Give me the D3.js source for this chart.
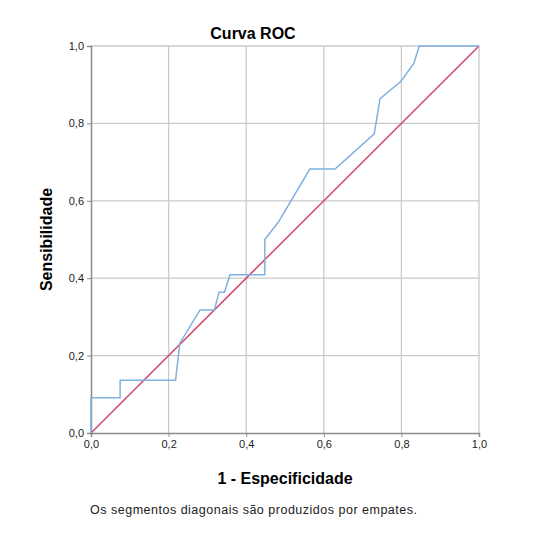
<!DOCTYPE html>
<html><head><meta charset="utf-8">
<script src="https://cdn.jsdelivr.net/npm/d3@7"></script>
<style>body{margin:0;background:#fff;} svg{display:block;font-family:"Liberation Sans",Arial,sans-serif;}</style>
</head><body>
<script>
const fpr = [0,0,0.075,0.075,0.218,0.229,0.281,0.318,0.330,0.344,0.358,0.448,0.448,0.483,0.564,0.629,0.730,0.745,0.799,0.832,0.846,1];
const tpr = [0,0.091,0.091,0.136,0.136,0.232,0.318,0.318,0.364,0.364,0.409,0.409,0.5,0.545,0.682,0.682,0.773,0.864,0.909,0.955,1,1];
const refX = [0,1];
const refY = [0,1];
const ticks = [0,0.2,0.4,0.6,0.8,1.0];

const W=534,H=537;
const L=91,R=479,T=46,B=433;
const svg=d3.select("body").append("svg").attr("width",W).attr("height",H);
const x=d3.scaleLinear().domain([0,1]).range([L,R]);
const y=d3.scaleLinear().domain([0,1]).range([B,T]);
const fmt=d=>d3.format(".1f")(d).replace(".",",");

// grid
svg.append("g").selectAll("line").data(ticks.filter(d=>d>0)).join("line")
  .attr("x1",d=>x(d)).attr("x2",d=>x(d)).attr("y1",T).attr("y2",B)
  .attr("stroke","#cacaca").attr("stroke-width",1.3);
svg.append("g").selectAll("line").data(ticks.filter(d=>d>0)).join("line")
  .attr("y1",d=>y(d)).attr("y2",d=>y(d)).attr("x1",L).attr("x2",R)
  .attr("stroke","#cacaca").attr("stroke-width",1.3);

// axes
const xa=svg.append("g").attr("transform",`translate(0,${B})`)
  .call(d3.axisBottom(x).tickValues(ticks).tickFormat(fmt).tickSize(4).tickPadding(3));
const ya=svg.append("g").attr("transform",`translate(${L},0)`)
  .call(d3.axisLeft(y).tickValues(ticks).tickFormat(fmt).tickSize(4).tickPadding(3));
[xa,ya].forEach(a=>{
  a.select(".domain").attr("stroke","#8a8a8a").attr("stroke-width",1.5);
  a.selectAll(".tick line").attr("stroke","#8a8a8a");
  a.selectAll("text").attr("font-size",11).attr("fill","#222").attr("font-family","Liberation Sans, Arial, sans-serif");
});

// reference line
svg.append("path").datum(refX.map((d,i)=>[d,refY[i]]))
  .attr("d",d3.line().x(d=>x(d[0])).y(d=>y(d[1])))
  .attr("fill","none").attr("stroke","#d2476d").attr("stroke-width",1.5);

// ROC curve
svg.append("path").datum(fpr.map((d,i)=>[d,tpr[i]]))
  .attr("d",d3.line().x(d=>x(d[0])).y(d=>y(d[1])))
  .attr("fill","none").attr("stroke","#7fb1e0").attr("stroke-width",1.5);

// texts
svg.append("text").attr("x",253).attr("y",39).attr("text-anchor","middle")
  .attr("font-size",16).attr("font-weight","bold").attr("fill","#000").text("Curva ROC");
svg.append("text").attr("x",285).attr("y",484).attr("text-anchor","middle")
  .attr("font-size",16).attr("font-weight","bold").attr("fill","#000").text("1 - Especificidade");
svg.append("text").attr("transform",`translate(52,${(T+B)/2}) rotate(-90)`).attr("text-anchor","middle")
  .attr("font-size",16).attr("font-weight","bold").attr("fill","#000").text("Sensibilidade");
svg.append("text").attr("x",90).attr("y",514)
  .attr("font-size",12.5).attr("fill","#222")
  .attr("textLength",327).attr("lengthAdjust","spacing")
  .text("Os segmentos diagonais são produzidos por empates.");
</script>
</body></html>
